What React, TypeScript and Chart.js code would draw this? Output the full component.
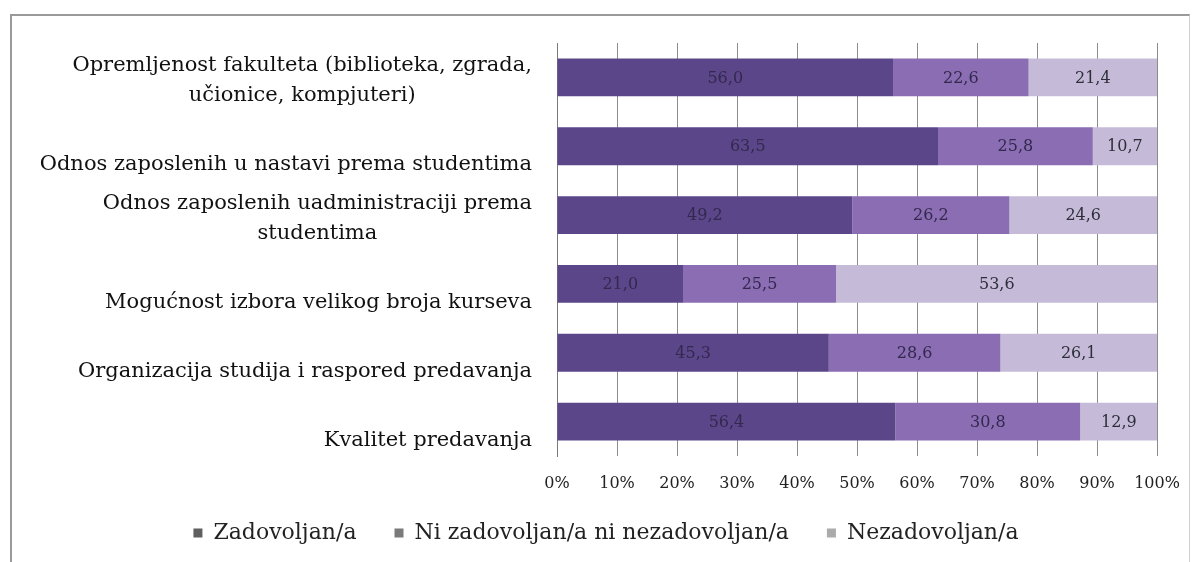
import React, { useEffect, useRef } from "react";
import { Chart, registerables } from "chart.js";

Chart.register(...registerables);

const categories: string[][] = [
  ["Opremljenost fakulteta (biblioteka, zgrada,", "učionice, kompjuteri)"],
  ["Odnos zaposlenih u nastavi prema studentima"],
  ["Odnos zaposlenih uadministraciji prema", "studentima"],
  ["Mogućnost izbora velikog broja kurseva"],
  ["Organizacija studija i raspored predavanja"],
  ["Kvalitet predavanja"],
];

const seriesNames = ["Zadovoljan/a", "Ni zadovoljan/a ni nezadovoljan/a", "Nezadovoljan/a"];
const zadovoljan = [56.0, 63.5, 49.2, 21.0, 45.3, 56.4];
const niNi = [22.6, 25.8, 26.2, 25.5, 28.6, 30.8];
const nezadovoljan = [21.4, 10.7, 24.6, 53.6, 26.1, 12.9];
const xMin = 0;
const xMax = 100;
const xStep = 10;

const barColors = ["#5b468a", "#8a6db3", "#c5bbd9"];
const legendColors = ["#5f5f5f", "#7a7a7a", "#ababab"];
const FONT = '"DejaVu Serif", serif';

const dataLabelPlugin = {
  id: "dataLabels",
  afterDatasetsDraw(chart: any) {
    const ctx = chart.ctx;
    ctx.save();
    ctx.font = `16px ${FONT}`;
    ctx.textAlign = "center";
    ctx.textBaseline = "middle";
    chart.data.datasets.forEach((ds: any, di: number) => {
      const meta = chart.getDatasetMeta(di);
      meta.data.forEach((el: any, i: number) => {
        const v = ds.data[i];
        const x = (el.x + el.base) / 2;
        ctx.fillStyle = di === 2 ? "#2e2e3a" : "#33284d";
        ctx.fillText(v.toFixed(1).replace(".", ","), x, el.y + 1);
      });
    });
    ctx.restore();
  },
};

const yLabelPlugin = {
  id: "yLabels",
  afterDraw(chart: any) {
    const ctx = chart.ctx;
    const yScale = chart.scales.y;
    const right = yScale.right - 25;
    ctx.save();
    ctx.font = `21px ${FONT}`;
    ctx.fillStyle = "#111";
    ctx.textAlign = "center";
    ctx.textBaseline = "middle";
    categories.forEach((lines, i) => {
      const yc = yScale.getPixelForValue(i);
      const maxW = Math.max(...lines.map((l) => ctx.measureText(l).width));
      const cx = right - maxW / 2;
      const n = lines.length;
      lines.forEach((line, k) => {
        const y = yc + 18.5 - (n - 1 - k) * 30;
        ctx.fillText(line, cx, y);
      });
    });
    ctx.restore();
  },
};

const legendPlugin = {
  id: "customLegend",
  afterDraw(chart: any) {
    const ctx = chart.ctx;
    ctx.save();
    ctx.font = `22px ${FONT}`;
    ctx.textBaseline = "middle";
    ctx.textAlign = "left";
    const sw = 9;
    const swGap = 11;
    const itemGap = 38;
    const labels: string[] = chart.data.datasets.map((d: any) => d.label);
    const widths = labels.map((t) => ctx.measureText(t).width);
    const total = widths.reduce((a, w) => a + sw + swGap + w, 0) + itemGap * (labels.length - 1);
    const cxCenter = 606;
    const y = 533;
    let x = cxCenter - total / 2;
    labels.forEach((t, i) => {
      ctx.fillStyle = legendColors[i];
      ctx.fillRect(x, y - sw / 2, sw, sw);
      ctx.fillStyle = "#222";
      ctx.fillText(t, x + sw + swGap, y);
      x += sw + swGap + widths[i] + itemGap;
    });
    ctx.restore();
  },
};

export default function App() {
  const ref = useRef<HTMLCanvasElement | null>(null);
  useEffect(() => {
    if (!ref.current) return;
    const chart = new Chart(ref.current, {
      type: "bar",
      data: {
        labels: categories,
        datasets: [
          { label: seriesNames[0], data: zadovoljan, backgroundColor: barColors[0] },
          { label: seriesNames[1], data: niNi, backgroundColor: barColors[1] },
          { label: seriesNames[2], data: nezadovoljan, backgroundColor: barColors[2] },
        ],
      },
      options: {
        indexAxis: "y",
        animation: false,
        responsive: false,
        layout: { padding: { left: 0, right: 43, top: 43, bottom: 52 } },
        datasets: { bar: { barPercentage: 0.55, categoryPercentage: 1 } },
        scales: {
          x: {
            stacked: true,
            min: xMin,
            max: xMax,
            grid: { color: "#8c8c8c", drawTicks: false },
            border: { display: false },
            ticks: {
              stepSize: xStep,
              padding: 18,
              color: "#222",
              font: { family: FONT, size: 16 },
              callback: (v: any) => `${v}%`,
            },
            afterFit: (s: any) => {
              s.height = 54;
            },
          },
          y: {
            stacked: true,
            grid: { display: false },
            border: { display: true, color: "#7a7a7a" },
            ticks: { display: false },
            afterFit: (s: any) => {
              s.width = 557;
            },
          },
        },
        plugins: {
          tooltip: { enabled: false },
          legend: { display: false },
        },
      },
      plugins: [dataLabelPlugin, yLabelPlugin, legendPlugin],
    });
    return () => chart.destroy();
  }, []);

  return (
    <div style={{ position: "absolute", left: 0, top: 0, width: 1200, height: 562, background: "#fff", overflow: "hidden" }}>
      <div
        style={{
          position: "absolute",
          left: 10,
          top: 14,
          width: 1180,
          height: 600,
          borderLeft: "2px solid #9a9a9a",
          borderTop: "2px solid #9a9a9a",
          borderRight: "1px solid #cfcfcf",
          boxSizing: "border-box",
        }}
      />
      <canvas ref={ref} width={1200} height={562} style={{ position: "absolute", left: 0, top: 0 }} />
    </div>
  );
}
